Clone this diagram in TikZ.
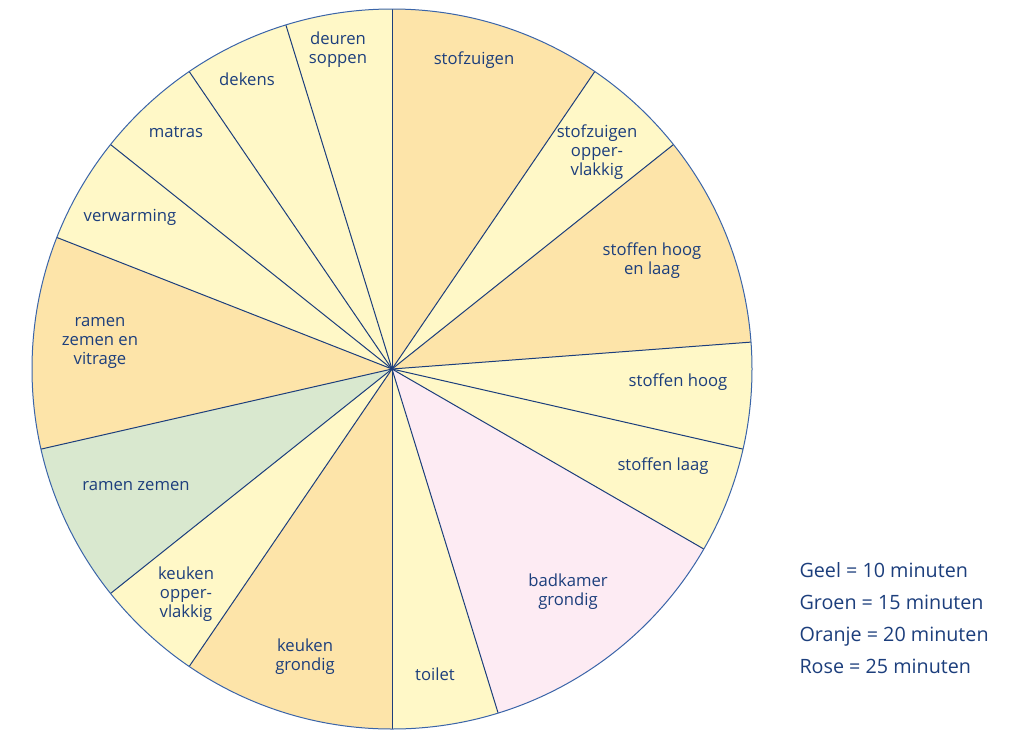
\documentclass[tikz,border=0pt]{standalone}
\usepackage{fontspec}
\setmainfont{Open Sans}
\definecolor{geel}{HTML}{FFF8C7}
\definecolor{oranje}{HTML}{FDE4A9}
\definecolor{groen}{HTML}{D9E8CF}
\definecolor{rose}{HTML}{FDEBF3}
\definecolor{inkt}{HTML}{1C3E7C}
\definecolor{rand}{HTML}{3A64A8}
\tikzset{every picture/.style={line width=0.75pt}}
\tikzset{
  spaak/.style={draw=inkt},
  taak/.style={inkt, align=center, inner sep=0.75pt, font=\fontsize{12.5}{14.25}\selectfont},
  legenda/.style={inkt, anchor=base west, inner sep=0.75pt, font=\fontsize{14.8}{17}\selectfont}
}
\begin{document}
\begin{tikzpicture}[x=0.75pt,y=0.75pt,yscale=-1,xscale=1]
\useasboundingbox (0,0) rectangle (1011,729);
\coordinate (O) at (392,369);

\begin{scope}[shift={(O)}]
% Slices: start/end in minutes (210 minutes = full circle), clockwise from top
\foreach \a/\b/\c in {0/20/oranje, 20/30/geel, 30/50/oranje, 50/60/geel, 60/70/geel,
  70/95/rose, 95/105/geel, 105/125/oranje, 125/135/geel, 135/150/groen,
  150/170/oranje, 170/180/geel, 180/190/geel, 190/200/geel, 200/210/geel}
  \fill[\c] (0,0) -- ({-90+\a*12/7}:360) arc[start angle={-90+\a*12/7}, end angle={-90+\b*12/7}, radius=360] -- cycle;
% Spokes
\foreach \m in {0,20,30,50,60,70,95,105,125,135,150,170,180,190,200}
  \draw[spaak] (0,0) -- ({-90+\m*12/7}:360);
% Outer circle
\draw[rand] (0,0) circle[radius=360];
\end{scope}

% Labels
\node[taak] (stofzuigen) at (474,60) {stofzuigen};
\node[taak] (stofopp) at (597,152) {stofzuigen\\opper-\\vlakkig};
\node[taak] (stofhooglaag) at (652,261) {stoffen hoog\\en laag};
\node[taak] (stofhoog) at (678,382) {stoffen hoog};
\node[taak] (stoflaag) at (663,466) {stoffen laag};
\node[taak] (badkamer) at (568,592) {badkamer\\grondig};
\node[taak] (toilet) at (435,674) {toilet};
\node[taak] (keukengr) at (305,657) {keuken\\grondig};
\node[taak] (keukenopp) at (186,594) {keuken\\opper-\\vlakkig};
\node[taak] (ramen) at (136,486) {ramen zemen};
\node[taak] (vitrage) at (100,343) {ramen\\zemen en\\vitrage};
\node[taak] (verwarming) at (130,217) {verwarming};
\node[taak] (matras) at (176,132) {matras};
\node[taak] (dekens) at (247,79) {dekens};
\node[taak] (deuren) at (338,50) {deuren\\soppen};

% Legend
\node[legenda] (geel) at (798,577) {Geel = 10 minuten};
\node[legenda] (groen) at (798,609) {Groen = 15 minuten};
\node[legenda] (oranje) at (798,641) {Oranje = 20 minuten};
\node[legenda] (rose) at (798,673) {Rose = 25 minuten};
\end{tikzpicture}
\end{document}
